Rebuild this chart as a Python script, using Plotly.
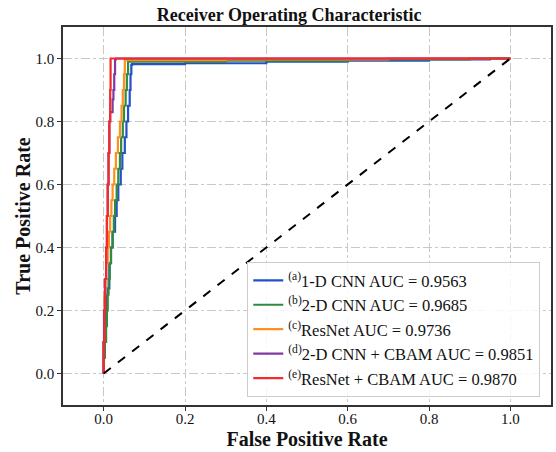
import plotly.graph_objects as go

names = ["<sup>(a)</sup>1-D CNN AUC = 0.9563",
         "<sup>(b)</sup>2-D CNN AUC = 0.9685",
         "<sup>(c)</sup>ResNet AUC = 0.9736",
         "<sup>(d)</sup>2-D CNN + CBAM AUC = 0.9851",
         "<sup>(e)</sup>ResNet + CBAM AUC = 0.9870"]
colors = ["#2450c8", "#2e8b3f", "#ff8f1f", "#7f3aa0", "#f52a2a"]

fpr_a = [0, 0, 0.003, 0.006, 0.010, 0.014, 0.018, 0.022, 0.028, 0.032, 0.036, 0.042, 0.046,
         0.052, 0.056, 0.060, 0.064, 0.066, 0.068, 0.070, 0.2, 0.4, 0.6, 0.8, 0.95, 1.0]
tpr_a = [0, 0.05, 0.10, 0.20, 0.25, 0.27, 0.35, 0.40, 0.45, 0.50, 0.55, 0.60, 0.65,
         0.70, 0.75, 0.80, 0.85, 0.90, 0.95, 0.980, 0.982, 0.985, 0.990, 0.993, 0.997, 1.0]

fpr_b = [0, 0.003, 0.006, 0.008, 0.010, 0.012, 0.015, 0.018, 0.022, 0.025, 0.028, 0.032,
         0.036, 0.040, 0.043, 0.047, 0.050, 0.054, 0.057, 0.060, 0.062, 0.3, 0.6, 0.9, 1.0]
tpr_b = [0, 0.05, 0.10, 0.15, 0.20, 0.25, 0.30, 0.35, 0.40, 0.45, 0.50, 0.55,
         0.60, 0.65, 0.70, 0.75, 0.80, 0.85, 0.90, 0.95, 0.990, 0.990, 0.993, 0.997, 1.0]

fpr_c = [0, 0.001, 0.002, 0.004, 0.006, 0.010, 0.013, 0.016, 0.019, 0.022, 0.026, 0.030,
         0.035, 0.040, 0.044, 0.047, 0.050, 0.052, 0.055, 0.3, 0.7, 1.0]
tpr_c = [0, 0.10, 0.20, 0.25, 0.30, 0.35, 0.40, 0.45, 0.50, 0.55, 0.60, 0.65,
         0.70, 0.75, 0.80, 0.85, 0.90, 0.95, 0.995, 0.995, 0.997, 1.0]

fpr_d = [0, 0.001, 0.003, 0.006, 0.008, 0.010, 0.012, 0.014, 0.016, 0.022, 0.024, 0.026,
         0.028, 0.030, 1.0]
tpr_d = [0, 0.10, 0.20, 0.30, 0.40, 0.50, 0.60, 0.70, 0.80, 0.83, 0.87, 0.90,
         0.95, 0.997, 1.0]

fpr_e = [0, 0, 0.002, 0.004, 0.006, 0.008, 0.010, 0.012, 0.014, 0.016, 0.017, 0.018, 1.0]
tpr_e = [0, 0.05, 0.10, 0.20, 0.30, 0.40, 0.50, 0.60, 0.70, 0.80, 0.90, 1.0, 1.0]

diag = [0, 1]
ticks = [0.0, 0.2, 0.4, 0.6, 0.8, 1.0]
tick_labels = ["0.0", "0.2", "0.4", "0.6", "0.8", "1.0"]

series = [(fpr_a, tpr_a), (fpr_b, tpr_b), (fpr_c, tpr_c), (fpr_d, tpr_d), (fpr_e, tpr_e)]

fig = go.Figure()
for (x, y), n, c in zip(series, names, colors):
    fig.add_trace(go.Scatter(x=x, y=y, mode="lines", name=n,
                             line=dict(color=c, width=2.2, shape="vh")))
fig.add_trace(go.Scatter(x=diag, y=diag, mode="lines", showlegend=False,
                         line=dict(color="black", width=2, dash="dash")))

font_family = "Liberation Serif, Times New Roman, serif"
axis_common = dict(
    range=[-0.1, 1.1], tickvals=ticks, ticktext=tick_labels,
    showgrid=True, gridcolor="#c8c8c8", griddash="dashdot", gridwidth=1,
    zeroline=False, showline=True, linecolor="#333333", linewidth=1.5, mirror=True,
    ticks="outside", ticklen=4, tickcolor="#333333", tickwidth=1,
    tickfont=dict(family=font_family, size=15, color="#111"),
)

fig.update_layout(
    width=556, height=452,
    margin=dict(l=63, r=3, t=27, b=47),
    paper_bgcolor="white", plot_bgcolor="white",
    font=dict(family=font_family, color="#111"),
    title=dict(text="<b>Receiver Operating Characteristic</b>",
               font=dict(family=font_family, size=18, color="#111"),
               x=0.52, xanchor="center", xref="container",
               y=1 - 15 / 452, yanchor="middle", yref="container"),
    xaxis=dict(**axis_common, ticklabelstandoff=-5,
               title=dict(text="<b>False Positive Rate</b>", standoff=6,
                          font=dict(family=font_family, size=20, color="#111"))),
    yaxis=dict(**axis_common,
               title=dict(text="<b>True Positive Rate</b>", standoff=0,
                          font=dict(family=font_family, size=20, color="#111"))),
    legend=dict(x=0.978, y=0.021, xanchor="right", yanchor="bottom",
                bgcolor="rgba(255,255,255,0.85)", bordercolor="#cccccc", borderwidth=1,
                font=dict(family=font_family, size=16.5, color="#111"),
                tracegroupgap=0, itemwidth=30),
)

fig.write_html("out.html")
